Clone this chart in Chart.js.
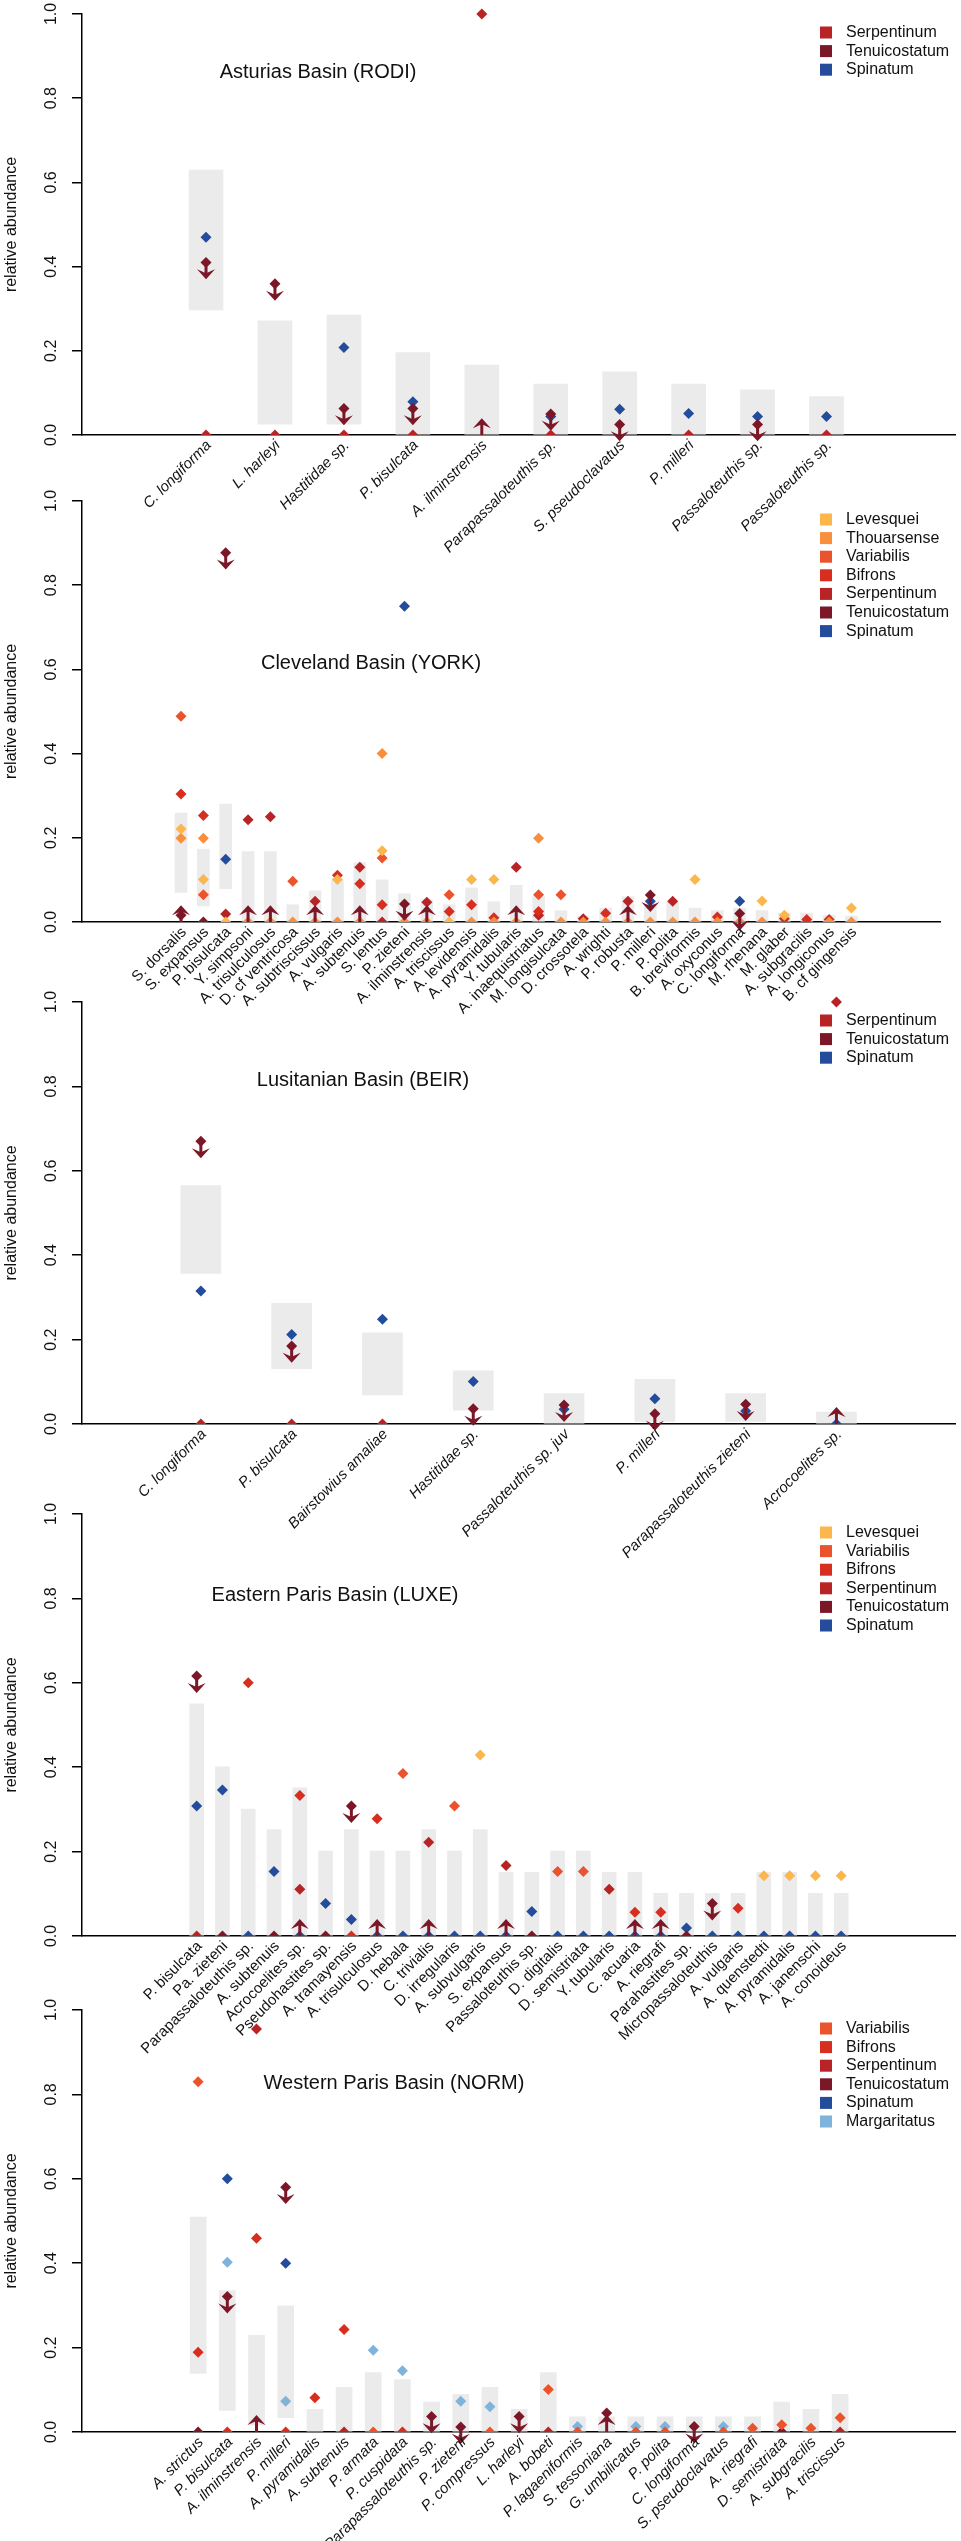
<!DOCTYPE html>
<html>
<head>
<meta charset="utf-8">
<script src="https://cdn.jsdelivr.net/npm/chart.js@4.4.1/dist/chart.umd.min.js"></script>
<style>
  body { margin: 0; background: #fff; }
  #wrap { position: relative; width: 961px; height: 2541px; overflow: hidden; }
  #wrap canvas { position: absolute; left: 0; }
</style>
</head>
<body>
<div id="wrap"></div>
<script>
// STAGE COLOURS
const STAGE_COLORS = {
  Levesquei: '#FDB64B',
  Thouarsense: '#F98E3D',
  Variabilis: '#EB532D',
  Bifrons: '#D82E1F',
  Serpentinum: '#B82325',
  Tenuicostatum: '#7C1727',
  Spinatum: '#234C9C',
  Margaritatus: '#80B3DA'
};
const FONT = '"Liberation Sans", Arial, Helvetica, sans-serif';
const ARROW_LEN = 0.04;

// ASTURIAS BASIN (RODI)
const rodiSpecies = ['C. longiforma', 'L. harleyi', 'Hastitidae sp.', 'P. bisulcata', 'A. ilminstrensis',
  'Parapassaloteuthis sp.', 'S. pseudoclavatus', 'P. milleri', 'Passaloteuthis sp.', 'Passaloteuthis sp.'];
const rodiLow = [0.297, 0.026, 0.026, 0, 0, 0, 0, 0, 0, 0];
const rodiHigh = [0.629, 0.271, 0.285, 0.196, 0.166, 0.121, 0.150, 0.121, 0.107, 0.091];
const rodiSerpentinum = [0, 0, 0, 0, 1.0, 0, null, 0, null, 0];
const rodiTenuicostatum = [0.41, 0.359, 0.063, 0.063, null, 0.05, 0.025, null, 0.025, null];
const rodiSpinatum = [0.47, null, 0.208, 0.079, null, 0.044, 0.061, 0.051, 0.044, 0.044];
const rodiArrows = ['down', 'down', 'down', 'down', 'up', 'down', 'down', null, 'down', null];

// CLEVELAND BASIN (YORK)
const yorkSpecies = ['S. dorsalis', 'S. expansus', 'P. bisulcata', 'Y. simpsoni', 'A. trisulculosus',
  'D. cf ventricosa', 'A. subtriscissus', 'A. vulgaris', 'A. subtenuis', 'S. lentus', 'P. zieteni',
  'A. ilminstrensis', 'A. triscissus', 'A. levidensis', 'A. pyramidalis', 'Y. tubularis',
  'A. inaequistriatus', 'M. longisulcata', 'D. crossotela', 'A. wrighti', 'P. robusta', 'P. milleri',
  'P. polita', 'B. breviformis', 'A. oxyconus', 'C. longiforma', 'M. rhenana', 'M. glaber',
  'A. subgracilis', 'A. longiconus', 'B. cf gingensis'];
const yorkLow = [0.070, 0.038, 0.079, 0, 0, 0, 0, 0, 0, 0, 0, 0, 0, 0, 0, 0, 0, 0, 0, 0, 0, 0, 0, 0, 0, 0, 0, 0, 0, 0, 0];
const yorkHigh = [0.259, 0.173, 0.280, 0.167, 0.167, 0.041, 0.074, 0.100, 0.141, 0.100, 0.067, 0.053, 0.041,
  0.081, 0.048, 0.087, 0.060, 0.027, 0.014, 0.033, 0.060, 0.042, 0.047, 0.033, 0.027, 0.033, 0.027, 0.021,
  0.021, 0.016, 0.014];
const yorkLevesquei = [0.221, 0.101, 0, null, null, null, null, 0.101, null, 0.169, null, null, 0, 0.101, 0.101,
  null, null, null, null, null, null, null, null, 0.101, null, null, 0.050, 0.016, null, null, 0.033];
const yorkThouarsense = [0.199, 0.199, null, 0, 0, 0, 0, 0, 0, 0.400, 0, 0, null, 0, 0, 0, 0.199, 0, 0, 0, 0,
  0, 0, 0, 0, 0, 0, null, null, 0, 0];
const yorkVariabilis = [0.489, 0.065, null, null, null, 0.097, null, null, null, 0.152, null, null, 0.065, null,
  null, null, 0.065, 0.065, null, null, null, null, null, null, null, null, null, null, null, null, null];
const yorkBifrons = [0.304, 0.253, null, null, null, null, null, 0.111, 0.091, 0.041, null, null, 0.025, 0.041,
  0.010, null, 0.025, null, null, 0.021, null, null, null, null, 0.012, null, null, 0.008, 0.006, 0.006, null];
const yorkSerpentinum = [null, null, 0.019, 0.243, 0.250, null, 0.049, null, 0.130, 0, null, 0.047, null, null,
  null, 0.130, 0.016, null, 0.008, null, 0.049, null, 0.049, null, null, null, null, null, null, null, null];
const yorkTenuicostatum = [0.016, 0, 0.877, null, null, null, null, null, null, null, 0.043, null, null, null,
  null, null, null, null, null, null, null, 0.064, null, null, null, 0.020, null, null, null, null, null];
const yorkSpinatum = [null, null, 0.149, null, null, null, null, null, null, null, 0.750, null, null, null, null,
  null, null, null, null, null, null, 0.049, null, null, null, 0.049, null, null, null, null, null];
const yorkArrows = ['up', null, 'down', 'up', 'up', null, 'up', null, 'up', null, 'down', 'up', null, null, null,
  'up', null, null, null, null, 'up', 'down', null, null, null, 'down', null, null, null, null, null];

// LUSITANIAN BASIN (BEIR)
const beirSpecies = ['C. longiforma', 'P. bisulcata', 'Bairstowius amaliae', 'Hastitidae sp.',
  'Passaloteuthis sp. juv', 'P. milleri', 'Parapassaloteuthis zieteni', 'Acrocoelites sp.'];
const beirLow = [0.357, 0.131, 0.069, 0.033, 0, 0.006, 0.006, 0];
const beirHigh = [0.565, 0.286, 0.216, 0.126, 0.072, 0.106, 0.072, 0.028];
const beirSerpentinum = [0, 0, 0, null, null, null, null, 1.0];
const beirTenuicostatum = [0.670, 0.185, null, 0.036, 0.045, 0.024, 0.047, null];
const beirSpinatum = [0.315, 0.212, 0.248, 0.101, 0.035, 0.060, 0.031, 0];
const beirArrows = ['down', 'down', null, 'down', 'down', 'down', 'down', 'up'];

// EASTERN PARIS BASIN (LUXE)
const luxeSpecies = ['P. bisulcata', 'Pa. zieteni', 'Parapassaloteuthis sp.', 'A. subtenuis', 'Acrocoelites sp.',
  'Pseudohastites sp.', 'A. tramayensis', 'A. trisulculosus', 'D. hebala', 'C. trivialis', 'D. irregularis',
  'A. subvulgaris', 'S. expansus', 'Passaloteuthis sp.', 'D. digitalis', 'D. semistriata', 'Y. tubularis',
  'C. acuaria', 'A. riegrafi', 'Parahastites sp.', 'Micropassaloteuthis', 'A. vulgaris', 'A. quenstedti',
  'A. pyramidalis', 'A. janenschi', 'A. conoideus'];
const luxeLow = [0, 0, 0, 0, 0, 0, 0, 0, 0, 0, 0, 0, 0, 0, 0, 0, 0, 0, 0, 0, 0, 0, 0, 0, 0, 0];
const luxeHigh = [0.55, 0.401, 0.301, 0.252, 0.351, 0.201, 0.252, 0.201, 0.201, 0.252, 0.201, 0.252, 0.151,
  0.151, 0.201, 0.201, 0.151, 0.151, 0.101, 0.101, 0.101, 0.101, 0.151, 0.151, 0.101, 0.101];
const luxeLevesquei = [null, null, null, null, null, null, null, null, null, null, null, 0.429, null, null, null,
  null, null, null, null, null, null, null, 0.143, 0.143, 0.143, 0.143];
const luxeVariabilis = [null, null, null, null, null, null, null, null, 0.385, null, 0.308, null, null, null,
  0.153, 0.153, null, null, null, null, null, null, null, null, null, null];
const luxeBifrons = [null, null, 0.600, null, 0.333, null, 0, 0.278, null, null, null, null, null, null, null,
  null, null, 0.056, 0.056, null, null, 0.066, null, null, null, null];
const luxeSerpentinum = [0, null, null, null, 0.111, null, null, null, null, 0.222, null, null, 0.167, null, null,
  null, 0.111, null, null, null, null, null, null, null, null, null];
const luxeTenuicostatum = [0.616, 0, null, 0, null, 0, 0.308, null, null, null, null, null, null, 0, null, null,
  null, null, null, 0, 0.077, null, null, null, null, null];
const luxeSpinatum = [0.308, 0.346, 0, 0.153, 0, 0.077, 0.039, 0, 0, 0, 0, 0, 0, 0.058, 0, 0, 0, 0, 0, 0.019,
  0, 0, 0, 0, 0, 0];
const luxeArrows = ['down', null, null, null, 'up', null, 'down', 'up', null, 'up', null, null, 'up', null, null,
  null, null, 'up', 'up', null, 'down', null, null, null, null, null];

// WESTERN PARIS BASIN (NORM)
const normSpecies = ['A. strictus', 'P. bisulcata', 'A. ilminstrensis', 'P. milleri', 'A. pyramidalis',
  'A. subtenuis', 'P. armata', 'P. cuspidata', 'Parapassaloteuthis sp.', 'P. zieteni', 'P. compressus',
  'L. harleyi', 'A. bobeti', 'P. lagaeniformis', 'S. tessoniana', 'G. umbilicatus', 'P. polita',
  'C. longiforma', 'S. pseudoclavatus', 'A. riegrafi', 'D. semistriata', 'A. subgracilis', 'A. triscissus'];
const normLow = [0.139, 0.051, 0.016, 0.034, 0, 0, 0, 0, 0, 0, 0, 0, 0, 0, 0, 0, 0, 0, 0, 0, 0, 0, 0];
const normHigh = [0.509, 0.335, 0.229, 0.299, 0.054, 0.106, 0.141, 0.124, 0.071, 0.089, 0.106, 0.054, 0.141,
  0.036, 0.036, 0.036, 0.036, 0.036, 0.036, 0.036, 0.071, 0.054, 0.089];
const normVariabilis = [0.830, null, null, null, null, null, 0, null, null, null, 0, null, 0.101, 0, null, 0, 0,
  null, 0, 0.009, 0.017, 0.009, 0.034];
const normBifrons = [0.189, 0, 0.459, 0, 0.081, 0.243, null, 0, null, null, null, null, null, null, null, null,
  null, null, null, null, null, null, null];
const normSerpentinum = [null, null, 0.955, null, null, 0, null, null, null, null, null, null, 0, null, null, null,
  null, null, null, null, null, null, 0];
const normTenuicostatum = [0, 0.321, null, 0.580, null, null, null, null, 0.037, 0.012, null, 0.037, null, null,
  0.045, null, null, 0.013, null, null, 0, null, null];
const normSpinatum = [null, 0.600, null, 0.400, null, null, null, null, null, null, null, null, null, null, null,
  null, null, null, null, null, null, null, null];
const normMargaritatus = [null, 0.402, null, 0.073, null, null, 0.194, 0.145, null, 0.073, 0.060, null, null,
  0.013, null, 0.013, 0.013, null, 0.013, null, null, null, null];
const normArrows = [null, 'down', 'up', 'down', null, null, null, null, 'down', 'down', null, 'down', null, null,
  'up', null, null, 'down', null, null, null, null, null];

// PANEL LAYOUT (page pixels)
const panels = [
  { title: 'Asturias Basin (RODI)', titleX: 318, titleY: 0.862, yTop: 14, yBot: 435, right: 960,
    xMin: -0.894, xMax: 9.966, barPx: 34, italic: true,
    species: rodiSpecies, low: rodiLow, high: rodiHigh, arrows: rodiArrows,
    stages: { Serpentinum: rodiSerpentinum, Tenuicostatum: rodiTenuicostatum, Spinatum: rodiSpinatum } },
  { title: 'Cleveland Basin (YORK)', titleX: 371, titleY: 0.613, yTop: 501, yBot: 922, right: 940,
    xMin: -1.688, xMax: 31.22, barPx: 12, italic: false,
    species: yorkSpecies, low: yorkLow, high: yorkHigh, arrows: yorkArrows,
    stages: { Levesquei: yorkLevesquei, Thouarsense: yorkThouarsense, Variabilis: yorkVariabilis,
      Bifrons: yorkBifrons, Serpentinum: yorkSerpentinum, Tenuicostatum: yorkTenuicostatum, Spinatum: yorkSpinatum } },
  { title: 'Lusitanian Basin (BEIR)', titleX: 363, titleY: 0.813, yTop: 1002, yBot: 1424, right: 960,
    xMin: -0.828, xMax: 7.83, barPx: 40, italic: true,
    species: beirSpecies, low: beirLow, high: beirHigh, arrows: beirArrows,
    stages: { Serpentinum: beirSerpentinum, Tenuicostatum: beirTenuicostatum, Spinatum: beirSpinatum } },
  { title: 'Eastern Paris Basin (LUXE)', titleX: 335, titleY: 0.808, yTop: 1514, yBot: 1936, right: 960,
    xMin: -1.624, xMax: 26.61, barPx: 14, italic: false,
    species: luxeSpecies, low: luxeLow, high: luxeHigh, arrows: luxeArrows,
    stages: { Levesquei: luxeLevesquei, Variabilis: luxeVariabilis, Bifrons: luxeBifrons,
      Serpentinum: luxeSerpentinum, Tenuicostatum: luxeTenuicostatum, Spinatum: luxeSpinatum } },
  { title: 'Western Paris Basin (NORM)', titleX: 394, titleY: 0.827, yTop: 2010, yBot: 2432, right: 960,
    xMin: -1.486, xMax: 23.46, barPx: 16, italic: true,
    species: normSpecies, low: normLow, high: normHigh, arrows: normArrows,
    stages: { Variabilis: normVariabilis, Bifrons: normBifrons, Serpentinum: normSerpentinum,
      Tenuicostatum: normTenuicostatum, Spinatum: normSpinatum, Margaritatus: normMargaritatus } }
];

// ARROW (shaft + notched head)
function drawArrow(ctx, x, y1, y2, color) {
  const dir = Math.sign(y2 - y1);
  ctx.strokeStyle = color;
  ctx.fillStyle = color;
  ctx.lineWidth = 3;
  ctx.beginPath();
  ctx.moveTo(x, y1);
  ctx.lineTo(x, y2 - dir * 5);
  ctx.stroke();
  ctx.beginPath();
  ctx.moveTo(x, y2);
  ctx.lineTo(x - 9, y2 - dir * 10);
  ctx.lineTo(x, y2 - dir * 6);
  ctx.lineTo(x + 9, y2 - dir * 10);
  ctx.closePath();
  ctx.fill();
}

// TITLES, TICK LABELS, SPECIES LABELS, LEGEND, ARROWS
const panelDecor = {
  id: 'panelDecor',
  afterDatasetsDraw(chart, args, opts) {
    const p = opts.panel;
    const ctx = chart.ctx;
    const xs = chart.scales.x, ys = chart.scales.y, area = chart.chartArea;
    ctx.save();

    p.arrows.forEach((a, i) => {
      if (!a) return;
      const px = xs.getPixelForValue(i);
      let from = 0, to = ARROW_LEN;
      if (a === 'down') {
        from = p.stages.Tenuicostatum[i];
        to = from - ARROW_LEN;
      }
      drawArrow(ctx, px, ys.getPixelForValue(from), ys.getPixelForValue(to), STAGE_COLORS.Tenuicostatum);
    });

    ctx.fillStyle = '#111';
    ctx.font = '16px ' + FONT;
    ctx.textAlign = 'center';
    ctx.textBaseline = 'middle';
    ys.ticks.forEach(t => {
      ctx.save();
      ctx.translate(52, ys.getPixelForValue(t.value));
      ctx.rotate(-Math.PI / 2);
      ctx.fillText(t.value.toFixed(1), 0, 0);
      ctx.restore();
    });

    ctx.font = (p.italic ? 'italic ' : '') + '15px ' + FONT;
    ctx.textAlign = 'right';
    p.species.forEach((s, i) => {
      ctx.save();
      ctx.translate(xs.getPixelForValue(i) + 3, area.bottom + 8);
      ctx.rotate(-Math.PI / 4);
      ctx.fillText(s, 0, 0);
      ctx.restore();
    });

    ctx.font = '20px ' + FONT;
    ctx.textAlign = 'center';
    ctx.fillText(p.title, p.titleX, ys.getPixelForValue(p.titleY));

    ctx.font = '16px ' + FONT;
    ctx.textAlign = 'left';
    Object.keys(p.stages).forEach((name, k) => {
      const cy = area.top + 18.5 + k * 18.6;
      ctx.fillStyle = STAGE_COLORS[name];
      ctx.fillRect(820, cy - 6, 12, 12);
      ctx.fillStyle = '#111';
      ctx.fillText(name, 846, cy);
    });
    ctx.restore();
  }
};

function makePanel(p) {
  const wrap = document.getElementById('wrap');
  const canvas = document.createElement('canvas');
  const top = p.yTop - 14;
  const height = p.yBot - top + 150;
  canvas.width = 961;
  canvas.height = height;
  canvas.style.top = top + 'px';
  canvas.style.width = '961px';
  canvas.style.height = height + 'px';
  wrap.appendChild(canvas);

  const datasets = [{
    type: 'bar',
    data: p.species.map((s, i) => ({ x: i, y: [p.low[i], p.high[i]] })),
    backgroundColor: '#EBEBEB',
    borderWidth: 0,
    barThickness: p.barPx,
    order: 10
  }];
  Object.keys(p.stages).forEach(name => {
    const values = p.stages[name];
    datasets.push({
      type: 'scatter',
      label: name,
      data: values.map((v, i) => (v == null ? null : { x: i, y: v })).filter(d => d),
      pointStyle: 'rectRot',
      pointRadius: 5.5,
      pointHoverRadius: 5.5,
      backgroundColor: STAGE_COLORS[name],
      borderWidth: 0,
      showLine: false,
      clip: { left: false, right: false, top: false, bottom: 0 },
      order: 1
    });
  });

  new Chart(canvas, {
    type: 'scatter',
    data: { datasets: datasets },
    options: {
      responsive: false,
      animation: false,
      devicePixelRatio: 1,
      layout: { padding: { left: 0, right: 961 - p.right, top: p.yTop - top, bottom: height - (p.yBot - top) } },
      plugins: { legend: { display: false }, tooltip: { enabled: false }, panelDecor: { panel: p } },
      scales: {
        x: {
          type: 'linear', min: p.xMin, max: p.xMax,
          ticks: { display: false },
          grid: { display: false },
          border: { display: true, color: '#000', width: 1.5 },
          afterFit: (scale) => { scale.height = 0; }
        },
        y: {
          type: 'linear', min: 0, max: 1,
          ticks: { display: false, stepSize: 0.2 },
          grid: { display: true, drawOnChartArea: false, drawTicks: true, tickLength: 10, color: '#000', lineWidth: 1.5 },
          border: { display: true, color: '#000', width: 1.5 },
          title: { display: true, text: 'relative abundance', color: '#111', font: { family: FONT, size: 16 }, padding: { top: 2, bottom: 0 } },
          afterFit: (scale) => { scale.width = 82; }
        }
      }
    },
    plugins: [panelDecor]
  });
}

panels.forEach(makePanel);
</script>
</body>
</html>
